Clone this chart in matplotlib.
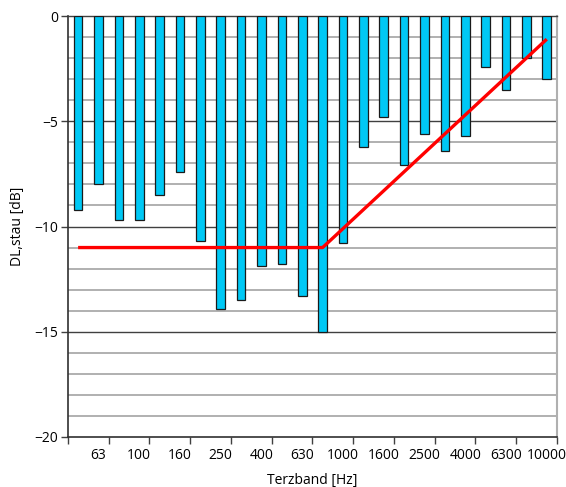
import numpy as np
import matplotlib
matplotlib.use("Agg")
import matplotlib.pyplot as plt
from matplotlib.ticker import MultipleLocator, FixedLocator, NullFormatter, FixedFormatter

# Third-octave band centre frequencies [Hz]
bands = ["50", "63", "80", "100", "125", "160", "200", "250", "315", "400",
         "500", "630", "800", "1000", "1250", "1600", "2000", "2500", "3150",
         "4000", "5000", "6300", "8000", "10000"]

# Measured DL,stau per band [dB]
dl_stau = [-9.2, -8.0, -9.7, -9.7, -8.5, -7.4, -10.7, -13.9, -13.5, -11.9,
           -11.8, -13.3, -15.0, -10.8, -6.2, -4.8, -7.1, -5.6, -6.4, -5.7,
           -2.4, -3.5, -2.0, -3.0]

# Reference curve: corner points (band label, value in dB)
ref_bands = ["50", "800", "10000"]
ref_values = [-11.0, -11.0, -1.1]

plt.rcParams["font.family"] = ["Open Sans", "DejaVu Sans"]
plt.rcParams["font.size"] = 10

fig = plt.figure(figsize=(5.66, 4.87), dpi=100)
ax = fig.add_axes([0.120, 0.1027, 0.864, 0.8644])

x = np.arange(len(bands))
ax.bar(x, dl_stau, width=0.42, color="#00C8F5", edgecolor="#1a1a1a",
       linewidth=0.9, zorder=3)

ref_x = [bands.index(b) for b in ref_bands]
ax.plot(ref_x, ref_values, color="#FF0000", linewidth=2.4, zorder=4,
        solid_capstyle="butt")

ax.set_xlim(-0.5, len(bands) - 0.5)
ax.set_ylim(-20, 0)

# Horizontal grid: fine 1 dB lines, heavier 5 dB lines
for yv in range(-19, 0):
    if yv % 5 == 0:
        ax.axhline(yv, color="#404040", linewidth=1.0, zorder=1)
    else:
        ax.axhline(yv, color="#aaaaaa", linewidth=1.3, zorder=1)

ax.yaxis.set_major_locator(MultipleLocator(5))
ax.tick_params(axis="y", which="major", direction="out", length=5,
               width=1, color="#404040", pad=2)

# Tick marks between every second band, labels on the odd bands
ax.xaxis.set_major_locator(FixedLocator(np.arange(-0.5, len(bands), 2)))
ax.xaxis.set_major_formatter(NullFormatter())
label_pos = x[1::2]
ax.xaxis.set_minor_locator(FixedLocator(label_pos))
ax.xaxis.set_minor_formatter(FixedFormatter([bands[i] for i in label_pos]))
ax.tick_params(axis="x", which="major", direction="out", length=5,
               width=1, color="#404040")
ax.tick_params(axis="x", which="minor", length=0, pad=8)

for side in ("left", "bottom"):
    ax.spines[side].set_color("#303030")
    ax.spines[side].set_linewidth(1.2)
ax.spines["top"].set_color("#404040")
ax.spines["top"].set_linewidth(1.0)
ax.spines["right"].set_color("#b0b0b0")
ax.spines["right"].set_linewidth(1.5)

ax.set_ylabel("DL,stau [dB]", labelpad=7)
ax.set_xlabel("Terzband [Hz]", labelpad=7)

fig.savefig("out.png", dpi=100)
